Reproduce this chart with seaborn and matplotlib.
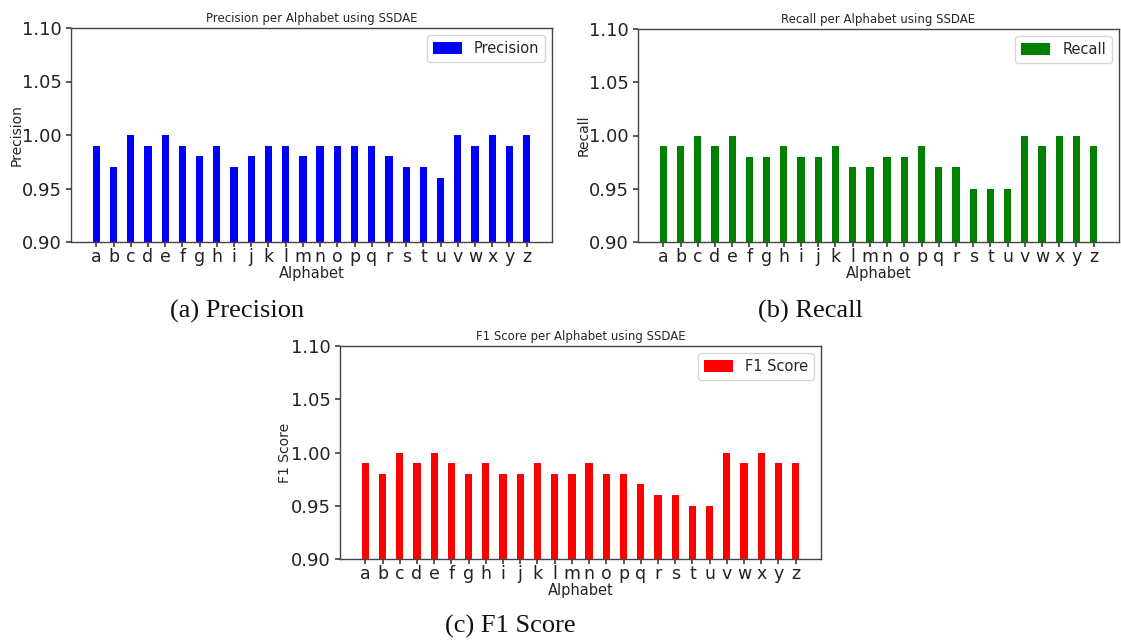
import matplotlib
matplotlib.use("Agg")
import matplotlib.pyplot as plt
import pandas as pd
import seaborn as sns

letters = list("abcdefghijklmnopqrstuvwxyz")

precision = [0.99, 0.97, 1.00, 0.99, 1.00, 0.99, 0.98, 0.99, 0.97, 0.98,
             0.99, 0.99, 0.98, 0.99, 0.99, 0.99, 0.99, 0.98, 0.97, 0.97,
             0.96, 1.00, 0.99, 1.00, 0.99, 1.00]
recall = [0.99, 0.99, 1.00, 0.99, 1.00, 0.98, 0.98, 0.99, 0.98, 0.98,
          0.99, 0.97, 0.97, 0.98, 0.98, 0.99, 0.97, 0.97, 0.95, 0.95,
          0.95, 1.00, 0.99, 1.00, 1.00, 0.99]
f1_score = [0.99, 0.98, 1.00, 0.99, 1.00, 0.99, 0.98, 0.99, 0.98, 0.98,
            0.99, 0.98, 0.98, 0.99, 0.98, 0.98, 0.97, 0.96, 0.96, 0.95,
            0.95, 1.00, 0.99, 1.00, 0.99, 0.99]

yticks = [0.90, 0.95, 1.00, 1.05, 1.10]

sns.set_theme(style="ticks", context="notebook")
plt.rcParams.update({
    "font.family": ["DejaVu Sans"],
    "axes.edgecolor": "#444444",
    "axes.linewidth": 1.0,
    "xtick.color": "#444444",
    "ytick.color": "#444444",
    "xtick.labelcolor": "#222222",
    "ytick.labelcolor": "#222222",
})

W, H = 1121, 641
fig = plt.figure(figsize=(W / 100, H / 100), dpi=100)


def px_axes(left, top, right, bottom):
    return fig.add_axes([left / W, 1 - bottom / H, (right - left) / W, (bottom - top) / H])


def panel(ax, values, color, label, title):
    df = pd.DataFrame({"Alphabet": letters, label: values})
    sns.barplot(data=df, x="Alphabet", y=label, color=color, width=0.42,
                saturation=1, linewidth=0, label=label, ax=ax)
    n = len(letters)
    span = (n - 1) + 0.4
    ax.set_xlim(-0.2 - 0.05 * span, n - 1 + 0.2 + 0.05 * span)
    ax.set_ylim(0.90, 1.10)
    ax.set_yticks(yticks)
    ax.set_yticklabels([f"{t:.2f}" for t in yticks], fontsize=13)
    ax.tick_params(axis="x", labelsize=12.5, length=3.5, pad=1)
    ax.tick_params(axis="y", length=3.5, pad=3)
    ax.set_xlabel("Alphabet", fontsize=10.5, labelpad=0)
    ax.set_ylabel(label, fontsize=10, labelpad=-1)
    ax.set_title(title, fontsize=8.5, pad=4)
    ax.legend(loc="upper right", fontsize=10.5, frameon=True, fancybox=True,
              handleheight=0.9, handlelength=2.0)
    for s in ax.spines.values():
        s.set_visible(True)


ax1 = px_axes(71, 28, 552, 242)
panel(ax1, precision, "#0000ff", "Precision", "Precision per Alphabet using SSDAE")

ax2 = px_axes(638, 29, 1119, 242)
panel(ax2, recall, "#008000", "Recall", "Recall per Alphabet using SSDAE")

ax3 = px_axes(340, 346, 821, 559)
panel(ax3, f1_score, "#ff0000", "F1 Score", "F1 Score per Alphabet using SSDAE")

cap = dict(fontsize=19, family="Liberation Serif", ha="center", va="center", color="#111111")
fig.text(237 / W, 1 - 311 / H, "(a) Precision", **cap)
fig.text(810 / W, 1 - 311 / H, "(b) Recall", **cap)
fig.text(510 / W, 1 - 626 / H, "(c) F1 Score", **cap)

fig.savefig("out.png", dpi=100)
